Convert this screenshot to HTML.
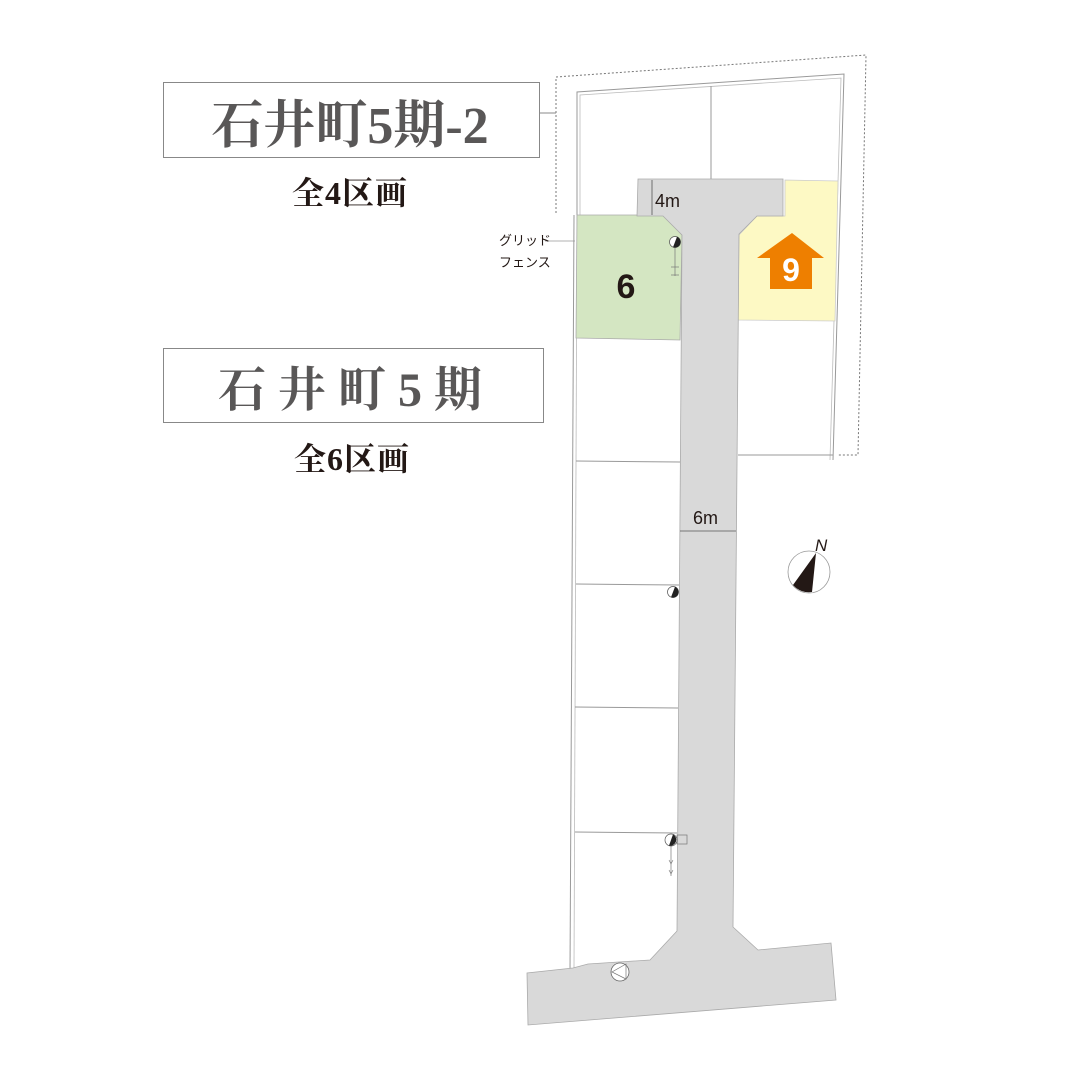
<!DOCTYPE html>
<html><head><meta charset="utf-8"><style>
html,body{margin:0;padding:0;background:#fff;}
svg{display:block;}
.serif{font-family:"Liberation Serif","Noto Serif CJK SC",serif;}
.sans{font-family:"Liberation Sans","Noto Sans CJK JP",sans-serif;}
</style></head><body>
<svg width="1080" height="1080" viewBox="0 0 1080 1080" xmlns="http://www.w3.org/2000/svg">
<rect width="1080" height="1080" fill="#fff"/>
<polyline points="556,213 556,77 866,55 858,455 838,455" fill="none" stroke="#777" stroke-width="1" stroke-dasharray="2,2"/>
<line x1="540" y1="113" x2="556" y2="113" stroke="#888" stroke-width="1"/>
<polyline points="577,215 577,92 844,74 833,460" fill="none" stroke="#999" stroke-width="1"/>
<polyline points="580,215 580,95 841,78 830,460" fill="none" stroke="#bbb" stroke-width="0.8"/>
<line x1="711" y1="86" x2="711" y2="179" stroke="#999"/>
<line x1="574" y1="215" x2="570" y2="972" stroke="#999"/>
<line x1="577" y1="215" x2="574" y2="968" stroke="#bbb" stroke-width="0.8"/>
<polygon points="577,215 663,215 682,235 680,340 576,338" fill="#d4e6c2" stroke="#aaa" stroke-width="0.8"/>
<polygon points="739,235 757,216 785,216 785,180 838,181 835,321 738,320" fill="#fdf9c4" stroke="#ccc" stroke-width="0.8"/>
<g stroke="#999" stroke-width="1">
<line x1="576" y1="461" x2="680" y2="462"/>
<line x1="576" y1="584" x2="679" y2="585"/>
<line x1="575" y1="707" x2="678" y2="708"/>
<line x1="575" y1="832" x2="677" y2="833"/>
<line x1="738" y1="455" x2="833" y2="455"/>
</g>
<polygon points="638,179 783,179 783,216 757,216 739,234 733,927 758,950 831,943 836,1000 528,1025 527,973 573,968 588,964 650,960 677,931 682,235 663,216 637,216" fill="#d9d9d9" stroke="#aaa" stroke-width="0.8"/>
<line x1="652" y1="180" x2="652" y2="215" stroke="#555" stroke-width="0.8"/>
<text x="655" y="207" class="sans" font-size="18" fill="#231815">4m</text>
<line x1="680" y1="531" x2="736" y2="531" stroke="#555" stroke-width="0.8"/>
<text x="693" y="524" class="sans" font-size="18" fill="#231815">6m</text>
<g>
<circle cx="675" cy="242" r="5.5" fill="#fff" stroke="#555" stroke-width="0.7"/>
<path d="M677,236.8 A5.5,5.5 0 0 1 673,247.2 Z" fill="#222"/>
<line x1="675" y1="248" x2="675" y2="276" stroke="#777" stroke-width="0.7"/>
<line x1="671" y1="267" x2="679" y2="267" stroke="#777" stroke-width="0.7"/>
<line x1="671" y1="275" x2="679" y2="275" stroke="#777" stroke-width="0.7"/>
<circle cx="673" cy="592" r="5.5" fill="#fff" stroke="#555" stroke-width="0.7"/>
<path d="M675,586.8 A5.5,5.5 0 0 1 671,597.2 Z" fill="#222"/>
<circle cx="671" cy="840" r="6" fill="#fff" stroke="#555" stroke-width="0.7"/>
<path d="M673,834.4 A6,6 0 0 1 669,845.6 Z" fill="#222"/>
<rect x="677" y="835" width="10" height="9" fill="none" stroke="#777" stroke-width="0.7"/>
<line x1="671" y1="846" x2="671" y2="876" stroke="#777" stroke-width="0.7"/>
<path d="M669,860 l2,4 l2,-4 M669,870 l2,4 l2,-4" fill="none" stroke="#777" stroke-width="0.6"/>
<circle cx="620" cy="972" r="9" fill="#fff" stroke="#666" stroke-width="0.8"/>
<polygon points="626,964 612,972 626,979" fill="none" stroke="#777" stroke-width="0.7"/>
</g>
<text x="626" y="298" text-anchor="middle" class="sans" font-size="34" font-weight="bold" fill="#231815">6</text>
<polygon points="792,233 824,258 812,258 812,289 770,289 770,258 757,258" fill="#ee7f00"/>
<text x="791" y="281" text-anchor="middle" class="sans" font-size="32" font-weight="bold" fill="#fff">9</text>
<line x1="545" y1="241" x2="575" y2="241" stroke="#999" stroke-width="0.8"/>
<text x="499" y="245" class="sans" font-size="13" fill="#231815">グリッド</text>
<text x="499" y="267" class="sans" font-size="13" fill="#231815">フェンス</text>
<circle cx="809" cy="572" r="21" fill="#fff" stroke="#999" stroke-width="0.8"/>
<path d="M816,553 L793,585 A21,21 0 0 0 812,592 Z" fill="#231815"/>
<text x="815" y="551" class="sans" font-size="17" font-style="italic" fill="#231815">N</text>
<rect x="163.5" y="82.5" width="376" height="75" fill="#fff" stroke="#888" stroke-width="1"/>
<text x="350" y="143" text-anchor="middle" class="serif" font-size="52" font-weight="bold" fill="#595757">石井町5期-2</text>
<text x="350" y="204" text-anchor="middle" class="serif" font-size="32" font-weight="bold" fill="#231815" letter-spacing="1">全4区画</text>
<rect x="163.5" y="348.5" width="380" height="74" fill="#fff" stroke="#888" stroke-width="1"/>
<text x="356" y="406" text-anchor="middle" class="serif" font-size="48" font-weight="bold" fill="#595757" letter-spacing="12">石井町5期</text>
<text x="352" y="470" text-anchor="middle" class="serif" font-size="32" font-weight="bold" fill="#231815" letter-spacing="1">全6区画</text>
</svg>
</body></html>
